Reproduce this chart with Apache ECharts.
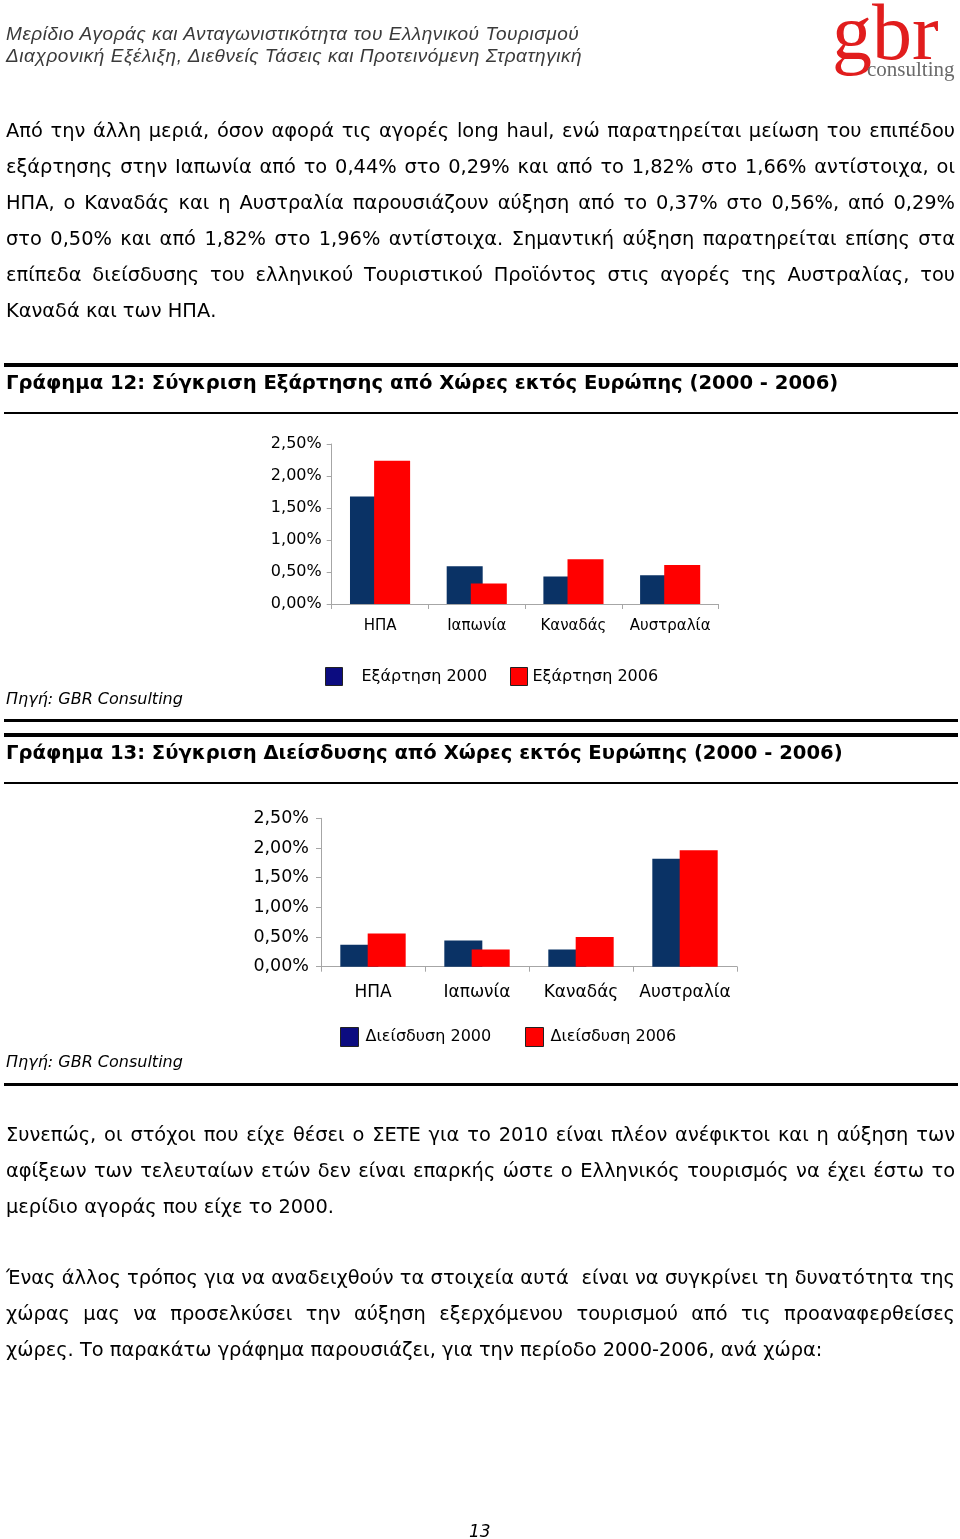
<!DOCTYPE html>
<html>
<head>
<meta charset="utf-8">
<script src="https://cdn.jsdelivr.net/npm/echarts@6/dist/echarts.min.js"></script>
<style>
  html, body { margin:0; padding:0; background:#fff; }
  #page { position:relative; width:960px; height:1539px; overflow:hidden; background:#fff; }
  #chart { position:absolute; left:0; top:0; width:960px; height:1539px; }
  .t { position:absolute; white-space:nowrap; color:#000; }
  .hdr { font-family:"Liberation Sans", Arial, sans-serif; font-style:italic; font-size:19px; letter-spacing:0.55px; color:#3a3a3a; left:6px; height:22px; line-height:22px; }
  .para { position:absolute; left:6px; width:949px; font-family:"DejaVu Sans", Verdana, sans-serif; font-size:19.4px; color:#000; }
  .para div { height:36px; line-height:36px; white-space:nowrap; text-align:justify; text-align-last:justify; }
  .para div.last { text-align:left; text-align-last:left; }
  .head { font-family:"DejaVu Sans", Verdana, sans-serif; font-weight:bold; font-size:19.6px; left:6px; height:30px; line-height:30px; }
  .src { font-family:"DejaVu Sans", Verdana, sans-serif; font-style:italic; font-size:16px; left:6px; height:20px; line-height:20px; }
  .rule { position:absolute; left:4px; width:954px; background:#000; }
</style>
</head>
<body>
<div id="page">
  <div id="chart"></div>

  <div class="t hdr" style="top:23px;">Μερίδιο Αγοράς και Ανταγωνιστικότητα του Ελληνικού Τουρισμού</div>
  <div class="t hdr" style="top:45px;">Διαχρονική Εξέλιξη, Διεθνείς Τάσεις και Προτεινόμενη Στρατηγική</div>

  <div class="t" style="left:832px; top:-8px; font-family:'Liberation Serif','Times New Roman',serif; font-size:80px; line-height:80px; color:#e11d1d;">gbr</div>
  <div class="t" style="left:867px; top:58px; font-family:'Liberation Serif','Times New Roman',serif; font-size:21px; line-height:22px; color:#6a6a6a;">consulting</div>

  <div class="para" style="top:113px;">
    <div>Από την άλλη μεριά, όσον αφορά τις αγορές long haul, ενώ παρατηρείται μείωση του επιπέδου</div>
    <div>εξάρτησης στην Ιαπωνία από το 0,44% στο 0,29% και από το 1,82% στο 1,66% αντίστοιχα, οι</div>
    <div>ΗΠΑ, ο Καναδάς και η Αυστραλία παρουσιάζουν αύξηση από το 0,37% στο 0,56%, από 0,29%</div>
    <div>στο 0,50% και από 1,82% στο 1,96% αντίστοιχα. Σημαντική αύξηση παρατηρείται επίσης στα</div>
    <div>επίπεδα διείσδυσης του ελληνικού Τουριστικού Προϊόντος στις αγορές της Αυστραλίας, του</div>
    <div class="last">Καναδά και των ΗΠΑ.</div>
  </div>

  <div class="rule" style="top:363px; height:4px;"></div>
  <div class="t head" style="top:368px;">Γράφημα 12: Σύγκριση Εξάρτησης από Χώρες εκτός Ευρώπης (2000 - 2006)</div>
  <div class="rule" style="top:412px; height:2px;"></div>

  <div class="t src" style="top:689px;">Πηγή: GBR Consulting</div>
  <div class="rule" style="top:719px; height:3px;"></div>
  <div class="rule" style="top:733px; height:4px;"></div>
  <div class="t head" style="top:738px;">Γράφημα 13: Σύγκριση Διείσδυσης από Χώρες εκτός Ευρώπης (2000 - 2006)</div>
  <div class="rule" style="top:782px; height:2px;"></div>

  <div class="t src" style="top:1052px;">Πηγή: GBR Consulting</div>
  <div class="rule" style="top:1083px; height:3px;"></div>

  <div class="para" style="top:1117px;">
    <div>Συνεπώς, οι στόχοι που είχε θέσει ο ΣΕΤΕ για το 2010 είναι πλέον ανέφικτοι και η αύξηση των</div>
    <div>αφίξεων των τελευταίων ετών δεν είναι επαρκής ώστε ο Ελληνικός τουρισμός να έχει έστω το</div>
    <div class="last">μερίδιο αγοράς που είχε το 2000.</div>
  </div>

  <div class="para" style="top:1260px;">
    <div>Ένας άλλος τρόπος για να αναδειχθούν τα στοιχεία αυτά&nbsp; είναι να συγκρίνει τη δυνατότητα της</div>
    <div>χώρας μας να προσελκύσει την αύξηση εξερχόμενου τουρισμού από τις προαναφερθείσες</div>
    <div class="last">χώρες. Το παρακάτω γράφημα παρουσιάζει, για την περίοδο 2000-2006, ανά χώρα:</div>
  </div>

  <div class="t" style="left:469px; top:1520px; font-family:'DejaVu Sans',Verdana,sans-serif; font-style:italic; font-size:17px; line-height:22px;">13</div>
</div>

<script>
// ---- data ----
const categories = ['ΗΠΑ', 'Ιαπωνία', 'Καναδάς', 'Αυστραλία'];
const dependence2000 = [1.68, 0.59, 0.43, 0.45];
const dependence2006 = [2.24, 0.32, 0.70, 0.61];
const penetration2000 = [0.37, 0.44, 0.29, 1.82];
const penetration2006 = [0.56, 0.29, 0.50, 1.96];
const seriesNames = ['Εξάρτηση 2000', 'Εξάρτηση 2006', 'Διείσδυση 2000', 'Διείσδυση 2006'];
const yMin = 0, yMax = 2.5, yStep = 0.5;

// ---- styles ----
const BLUE = '#0a3265', RED = '#ff0000';
const LEG_BLUE = '#0c0c80', LEG_RED = '#ff0000';
const AX = '#a6a6a6';
const FONT = '"DejaVu Sans", Verdana, sans-serif';
const pct = v => v.toFixed(2).replace('.', ',') + '%';

function xAxis(gi, fs, margin) {
  return {
    type: 'category', gridIndex: gi, data: categories,
    axisLine: { lineStyle: { color: AX, width: 1 } },
    axisTick: { show: true, length: 5, lineStyle: { color: AX } },
    axisLabel: { color: '#000', fontFamily: FONT, fontSize: fs, margin: margin, interval: 0 }
  };
}
function yAxis(gi, fs, margin) {
  return {
    type: 'value', gridIndex: gi, min: yMin, max: yMax, interval: yStep,
    axisLine: { show: true, lineStyle: { color: AX, width: 1 } },
    axisTick: { show: true, length: 5, lineStyle: { color: AX } },
    splitLine: { show: false },
    axisLabel: { color: '#000', fontFamily: FONT, fontSize: fs, margin: margin, formatter: pct }
  };
}
function legend(name, color, left, top, size, fs, padLeft) {
  return {
    left: left, top: top, padding: 0, orient: 'horizontal',
    icon: 'rect', itemWidth: size, itemHeight: size + 1, selectedMode: false,
    data: [{ name: name, itemStyle: { color: color, borderColor: '#222', borderWidth: 1 } }],
    textStyle: { color: '#000', fontFamily: FONT, fontSize: fs, padding: [0, 0, 0, padLeft] }
  };
}

const chart = echarts.init(document.getElementById('chart'), null, { renderer: 'canvas' });
chart.setOption({
  animation: false,
  backgroundColor: 'transparent',
  grid: [
    { left: 331.7, top: 444, width: 386.8, height: 160 },
    { left: 321, top: 818.3, width: 416, height: 148.4 }
  ],
  xAxis: [xAxis(0, 15, 15), xAxis(1, 17, 17)],
  yAxis: [yAxis(0, 16, 10), yAxis(1, 17.5, 12)],
  legend: [
    legend(seriesNames[0], LEG_BLUE, 325, 667, 17, 16, 14),
    legend(seriesNames[1], LEG_RED, 510, 667, 17, 16, 0),
    legend(seriesNames[2], LEG_BLUE, 340, 1027, 18, 16, 2),
    legend(seriesNames[3], LEG_RED, 525, 1027, 18, 16, 2)
  ],
  series: [
    { name: seriesNames[0], type: 'bar', xAxisIndex: 0, yAxisIndex: 0, data: dependence2000,
      barWidth: 36, barGap: '-33%', itemStyle: { color: BLUE } },
    { name: seriesNames[1], type: 'bar', xAxisIndex: 0, yAxisIndex: 0, data: dependence2006,
      barWidth: 36, barGap: '-33%', itemStyle: { color: RED } },
    { name: seriesNames[2], type: 'bar', xAxisIndex: 1, yAxisIndex: 1, data: penetration2000,
      barWidth: 38, barGap: '-28%', itemStyle: { color: BLUE } },
    { name: seriesNames[3], type: 'bar', xAxisIndex: 1, yAxisIndex: 1, data: penetration2006,
      barWidth: 38, barGap: '-28%', itemStyle: { color: RED } }
  ]
});
</script>
</body>
</html>
